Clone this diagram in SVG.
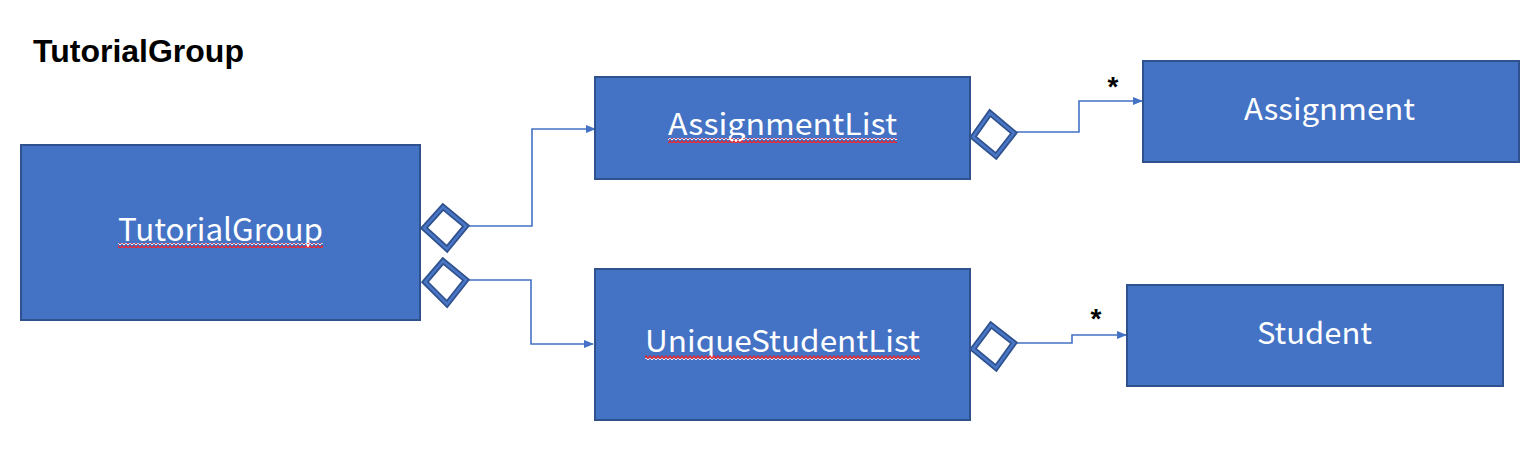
<svg xmlns="http://www.w3.org/2000/svg" width="1538" height="472" viewBox="0 0 1538 472">
<style>
.box{fill:#4472C4;stroke:#2F528F;stroke-width:2}
.lbl{font-family:"Noto Sans CJK JP","Noto Sans",sans-serif;fill:#fff;text-anchor:middle}
.con{fill:none;stroke:#4472C4;stroke-width:1.6}
.dO{fill:#fff;stroke:#2F528F;stroke-width:6;stroke-linejoin:miter}
.dI{fill:none;stroke:#4A76C6;stroke-width:2.5;stroke-linejoin:miter}
.star{font-family:"Liberation Sans",Arial,sans-serif;font-size:28px;font-weight:bold;fill:#000;text-anchor:middle}
</style>
<defs>
<marker id="arr" markerWidth="10" markerHeight="10" refX="9" refY="4" orient="auto" markerUnits="userSpaceOnUse">
<path d="M0 0 L10 4 L0 8 Z" fill="#4472C4"/>
</marker>
<pattern id="wave" width="4" height="5" patternUnits="userSpaceOnUse">
<path d="M0 4 L2 1.5 L4 4" fill="none" stroke="#FFFFFF" stroke-width="1" transform="translate(0,1)"/>
<path d="M0 3.5 L2 1 L4 3.5" fill="none" stroke="#E8202A" stroke-width="1.3"/>
</pattern>
</defs>
<rect width="1538" height="472" fill="#fff"/>
<text x="33" y="62" font-family="Liberation Sans,Arial,sans-serif" font-weight="bold" font-size="32" fill="#000">TutorialGroup</text>

<g id="connectors">
<polyline class="con" points="468,226 532,226 532,129 595,129" marker-end="url(#arr)"/>
<polyline class="con" points="468,280 531,280 531,344 593,344" marker-end="url(#arr)"/>
<polyline class="con" points="1016,132 1079,132 1079,101 1142,101" marker-end="url(#arr)"/>
<polyline class="con" points="1016,343 1072,343 1072,335 1126,335" marker-end="url(#arr)"/>
<text class="star" x="1113" y="96">*</text>
<text class="star" x="1096" y="328">*</text>
</g>

<g id="TutorialGroup">
<rect class="box" x="21" y="145" width="399" height="175"/>
<text class="lbl" x="220.5" y="241" font-size="31" textLength="205" lengthAdjust="spacingAndGlyphs">TutorialGroup</text>
<rect x="118" y="243" width="205" height="5" fill="url(#wave)"/>
</g>

<g id="AssignmentList">
<rect class="box" x="595" y="77" width="375" height="102"/>
<text class="lbl" x="782.5" y="135" font-size="30" textLength="229" lengthAdjust="spacingAndGlyphs">AssignmentList</text>
<rect x="668" y="138" width="229" height="5" fill="url(#wave)"/>
</g>

<g id="UniqueStudentList">
<rect class="box" x="595" y="269" width="375" height="151"/>
<text class="lbl" x="782.5" y="352" font-size="30" textLength="275" lengthAdjust="spacingAndGlyphs">UniqueStudentList</text>
<rect x="645" y="355" width="275" height="5" fill="url(#wave)"/>
</g>

<g id="Assignment">
<rect class="box" x="1143" y="61" width="376" height="101"/>
<text class="lbl" x="1329.5" y="120" font-size="30" textLength="171" lengthAdjust="spacingAndGlyphs">Assignment</text>
</g>

<g id="Student">
<rect class="box" x="1127" y="285" width="376" height="101"/>
<text class="lbl" x="1314.5" y="344" font-size="30" textLength="115" lengthAdjust="spacingAndGlyphs">Student</text>
</g>

<g id="diamonds">
<polygon class="dO" points="424,228 443,207 466,226 447,249"/>
<polygon class="dI" points="424,228 443,207 466,226 447,249"/>
<polygon class="dO" points="425,282 443,261 466,280 447,304"/>
<polygon class="dI" points="425,282 443,261 466,280 447,304"/>
<polygon class="dO" points="973,137 990,113 1014,133 996,156"/>
<polygon class="dI" points="973,137 990,113 1014,133 996,156"/>
<polygon class="dO" points="973,349 991,325 1014,343 996,368"/>
<polygon class="dI" points="973,349 991,325 1014,343 996,368"/>
</g>
</svg>
